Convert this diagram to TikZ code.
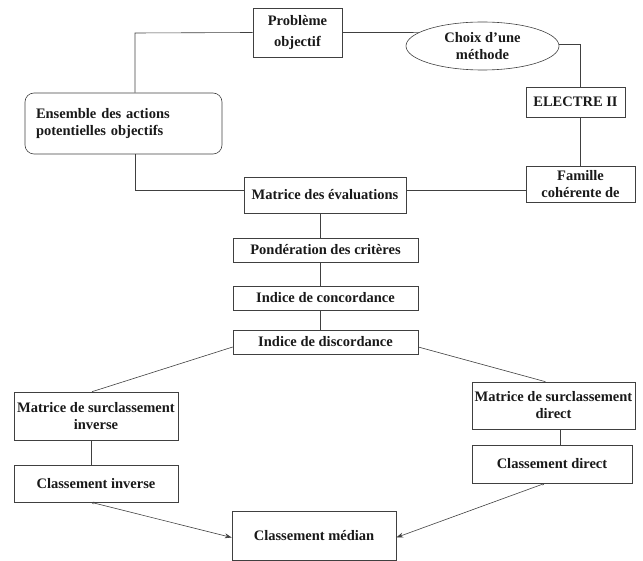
\documentclass[tikz,border=0pt]{standalone}
\usepackage{fontspec}
\setmainfont{Liberation Serif}
\usetikzlibrary{shapes.geometric,arrows.meta,calc}
\tikzset{
  box/.style={draw=black!75, line width=0.6pt, rectangle, inner sep=1pt, align=center,
    font=\bfseries\fontsize{14.5}{17}\selectfont, text=black!90},
  oval/.style={box, ellipse},
  conn/.style={draw=black!75, line width=0.6pt},
  arr/.style={conn, {Stealth[length=3pt,width=2.5pt]}-{Stealth[length=7pt,width=5pt]}}
}
\begin{document}
\begin{tikzpicture}[x=1pt,y=1pt]
\useasboundingbox (0,0) rectangle (643,-561);
% nodes
\node[box, minimum width=89, minimum height=49] (prob) at (297.5,-32.5) {Problème\\[4pt]objectif};
\node[oval, minimum width=153, minimum height=48, inner sep=0pt] (choix) at (482.5,-46) {Choix d'une\\méthode};
\node[box, rounded corners=9pt, minimum width=197, minimum height=61, text width=175, align=left, inner xsep=11pt] (ens) at (123.5,-123.5) {Ensemble des actions\\potentielles objectifs};
\node[box, minimum width=99, minimum height=30] (electre) at (575.5,-102) {ELECTRE II};
\node[box, minimum width=109, minimum height=36, inner sep=0pt] (famille) at (580.5,-184) {Famille\\cohérente de};
\node[box, minimum width=162, minimum height=36] (matrice) at (325,-195) {Matrice des évaluations};
\node[box, minimum width=185, minimum height=24] (pond) at (325.5,-250) {Pondération des critères};
\node[box, minimum width=185, minimum height=24] (conc) at (325.5,-298) {Indice de concordance};
\node[box, minimum width=185, minimum height=24] (disc) at (325.5,-342) {Indice de discordance};
\node[box, minimum width=164, minimum height=48] (msinv) at (96,-416) {Matrice de surclassement\\inverse};
\node[box, minimum width=164, minimum height=37] (clinv) at (96,-483.5) {Classement inverse};
\node[box, minimum width=163, minimum height=47] (msdir) at (553.5,-405.5) {Matrice de surclassement\\direct};
\node[box, minimum width=160, minimum height=38] (cldir) at (552,-464) {Classement direct};
\node[box, minimum width=164, minimum height=49] (median) at (314,-535.5) {Classement médian};
% helper coordinates
\coordinate (cl) at (135,-33);
\coordinate (cr) at (580,-44);
\coordinate (cm) at (320,0);
\coordinate (ci) at (91,0);
\coordinate (cd) at (560,0);
\coordinate (ch) at (0,-190);
% connectors
\draw[conn] (prob.west) -- (cl) -- (cl |- ens.north);
\draw[conn] (prob.east) -- (choix.168);
\draw[conn] (choix.east |- cr) -- (cr) -- (cr |- electre.north);
\draw[conn] (cr |- electre.south) -- (cr |- famille.north);
\draw[conn] (cl |- ens.south) |- (matrice.west |- ch);
\draw[conn] (matrice.east |- ch) -- (famille.west |- ch);
\draw[conn] (cm |- matrice.south) -- (cm |- pond.north);
\draw[conn] (cm |- pond.south) -- (cm |- conc.north);
\draw[conn] (cm |- conc.south) -- (cm |- disc.north);
\draw[conn] ($(disc.west)+(0,-5)$) -- ($(msinv.north)+(-4,0)$);
\draw[conn] ($(disc.east)+(0,-5)$) -- ($(msdir.north)+(-8,0)$);
\draw[conn] (ci |- msinv.south) -- (ci |- clinv.north);
\draw[conn] (cd |- msdir.south) -- (cd |- cldir.north);
\draw[arr] ($(clinv.south)+(-5,0)$) -- ($(median.west)+(0,-2)$);
\draw[arr] ($(cldir.south)+(-7,0)$) -- ($(median.east)+(0,-2)$);
\end{tikzpicture}
\end{document}
